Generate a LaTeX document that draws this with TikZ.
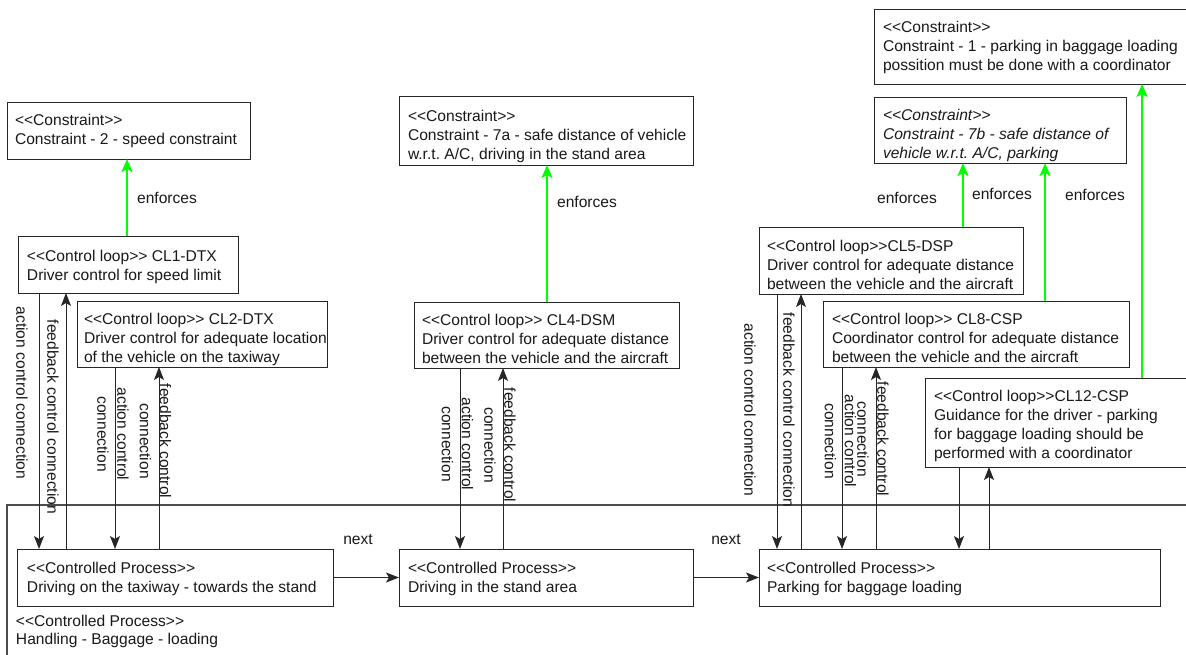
\documentclass[tikz,border=0pt]{standalone}
\usepackage{fontspec}
\setmainfont{Liberation Sans}
\usetikzlibrary{arrows.meta}
% stereotype brackets, kept apart so they are not turned into guillemets
\newcommand{\stl}{<\kern0pt<}
\newcommand{\stg}{>\kern0pt>}
\frenchspacing
\begin{document}
\begin{tikzpicture}[x=1pt,y=-1pt,
  every node/.style={inner sep=0pt, outer sep=0pt},
  box/.style={draw=black!85, line width=1pt, anchor=north west},
  txt/.style={anchor=north west, align=left, text=black!90, font=\fontsize{15.6}{19.2}\selectfont},
  lbl/.style={align=center, text=black!90, font=\fontsize{15.6}{20}\selectfont},
  ctl/.style={draw=black!85, line width=1pt, -{Stealth[length=13pt,width=10pt,inset=3pt]}},
  enf/.style={draw=green, line width=2.2pt, -{Stealth[length=13pt,width=11pt,inset=3pt]}},
]
\useasboundingbox (0,0) rectangle (1186,654);
\fill[white] (0,0) rectangle (1186,654);

% ---- constraints ----
\node[box, minimum width=243pt, minimum height=57pt] (c2) at (7,102) {};
\node[txt] (c2t) at (15,114) {\stl Constraint\stg\\Constraint - 2 - speed constraint};

\node[box, minimum width=294pt, minimum height=69pt] (c7a) at (399,96) {};
\node[txt] (c7at) at (408,110) {\stl Constraint\stg\\Constraint - 7a - safe distance of vehicle\\w.r.t. A/C, driving in the stand area};

\node[box, minimum width=316pt, minimum height=75pt] (c1) at (874,9) {};
\node[txt] (c1t) at (883,21) {\stl Constraint\stg\\Constraint - 1 - parking in baggage loading\\possition must be done with a coordinator};

\node[box, minimum width=252pt, minimum height=66pt] (c7b) at (874,97) {};
\node[txt, font=\fontsize{15.6}{19.2}\selectfont\itshape] (c7bt) at (883,109) {\stl Constraint\stg\\Constraint - 7b - safe distance of\\vehicle w.r.t. A/C, parking};

% ---- control loops ----
\node[box, minimum width=220pt, minimum height=57pt] (cl1) at (18,236) {};
\node[txt] (cl1t) at (27,250) {\stl Control loop\stg{} CL1-DTX\\Driver control for speed limit};

\node[box, minimum width=250pt, minimum height=66pt] (cl2) at (77,301) {};
\node[txt] (cl2t) at (84,313) {\stl Control loop\stg{} CL2-DTX\\Driver control for adequate location\\of the vehicle on the taxiway};

\node[box, minimum width=265pt, minimum height=66pt] (cl4) at (414,302) {};
\node[txt] (cl4t) at (422,314) {\stl Control loop\stg{} CL4-DSM\\Driver control for adequate distance\\between the vehicle and the aircraft};

\node[box, minimum width=264pt, minimum height=67pt] (cl5) at (759,227) {};
\node[txt] (cl5t) at (767,240) {\stl Control loop\stg CL5-DSP\\Driver control for adequate distance\\between the vehicle and the aircraft};

\node[box, minimum width=306pt, minimum height=66pt] (cl8) at (823,301) {};
\node[txt] (cl8t) at (832,313) {\stl Control loop\stg{} CL8-CSP\\Coordinator control for adequate distance\\between the vehicle and the aircraft};

\node[box, minimum width=265pt, minimum height=89pt] (cl12) at (925,378) {};
\node[txt] (cl12t) at (934,390) {\stl Control loop\stg CL12-CSP\\Guidance for the driver - parking\\for baggage loading should be\\performed with a coordinator};

% ---- controlled processes ----
\node[box, line width=1.3pt, draw=black!70, minimum width=1193pt, minimum height=165pt] (hb) at (7,505) {};
\node[txt, font=\fontsize{15.6}{18.5}\selectfont] (hbt) at (16,615) {\stl Controlled Process\stg\\Handling - Baggage - loading};

\node[box, minimum width=316pt, minimum height=57pt] (p1) at (17,549) {};
\node[txt, font=\fontsize{15.6}{18.5}\selectfont] (p1t) at (27,562.5) {\stl Controlled Process\stg\\Driving on the taxiway - towards the stand};

\node[box, minimum width=294pt, minimum height=57pt] (p2) at (399,549) {};
\node[txt, font=\fontsize{15.6}{18.5}\selectfont] (p2t) at (408,562.5) {\stl Controlled Process\stg\\Driving in the stand area};

\node[box, minimum width=401pt, minimum height=57pt] (p3) at (759,549) {};
\node[txt, font=\fontsize{15.6}{18.5}\selectfont] (p3t) at (767,562.5) {\stl Controlled Process\stg\\Parking for baggage loading};

% ---- sequence ----
\draw[ctl] (p1.east) -- (p2.west);
\draw[ctl] (p2.east) -- (p3.west);
\node[lbl] (nx1) at (358,540) {next};
\node[lbl] (nx2) at (726,540) {next};

% ---- enforces ----
\draw[enf] (cl1.north -| 127,0) -- (c2.south -| 127,0);
\draw[enf] (cl4.north -| 547,0) -- (c7a.south -| 547,0);
\draw[enf] (cl5.north -| 963,0) -- (c7b.south -| 963,0);
\draw[enf] (cl8.north -| 1045,0) -- (c7b.south -| 1045,0);
\draw[enf] (cl12.north -| 1142,0) -- (c1.south -| 1142,0);
\node[lbl] (e1) at (167,198) {enforces};
\node[lbl] (e2) at (587,202) {enforces};
\node[lbl] (e3) at (907,198) {enforces};
\node[lbl] (e4) at (1002,194) {enforces};
\node[lbl] (e5) at (1095,195) {enforces};

% ---- action / feedback connections ----
\draw[ctl] (cl1.south -| 39,0) -- (p1.north -| 39,0);
\draw[ctl] (p1.north -| 66,0) -- (cl1.south -| 66,0);
\draw[ctl] (cl2.south -| 115,0) -- (p1.north -| 115,0);
\draw[ctl] (p1.north -| 159,0) -- (cl2.south -| 159,0);
\draw[ctl] (cl4.south -| 460,0) -- (p2.north -| 460,0);
\draw[ctl] (p2.north -| 503,0) -- (cl4.south -| 503,0);
\draw[ctl] (cl5.south -| 777,0) -- (p3.north -| 777,0);
\draw[ctl] (p3.north -| 801,0) -- (cl5.south -| 801,0);
\draw[ctl] (cl8.south -| 842,0) -- (p3.north -| 842,0);
\draw[ctl] (p3.north -| 876,0) -- (cl8.south -| 876,0);
\draw[ctl] (cl12.south -| 959,0) -- (p3.north -| 959,0);
\draw[ctl] (p3.north -| 989,0) -- (cl12.south -| 989,0);

\node[lbl, rotate=-90] (a1) at (22,393) {action control connection};
\node[lbl, rotate=-90] (f1) at (53,417) {feedback control connection};
\node[lbl, rotate=-90] (a2) at (113,434) {action control\\connection};
\node[lbl, rotate=-90] (f2) at (155.5,441) {feedback control\\connection};
\node[lbl, rotate=-90] (a4) at (457.5,444) {action control\\connection};
\node[lbl, rotate=-90] (f4) at (500,445) {feedback control\\connection};
\node[lbl, rotate=-90] (a5) at (750,410) {action control connection};
\node[lbl, rotate=-90] (f5) at (789,410) {feedback control connection};
\node[lbl, rotate=-90] (a8) at (840.5,441) {action control\\connection};
\node[lbl, rotate=-90] (f8) at (873,439) {feedback control\\connection};
\end{tikzpicture}
\end{document}
